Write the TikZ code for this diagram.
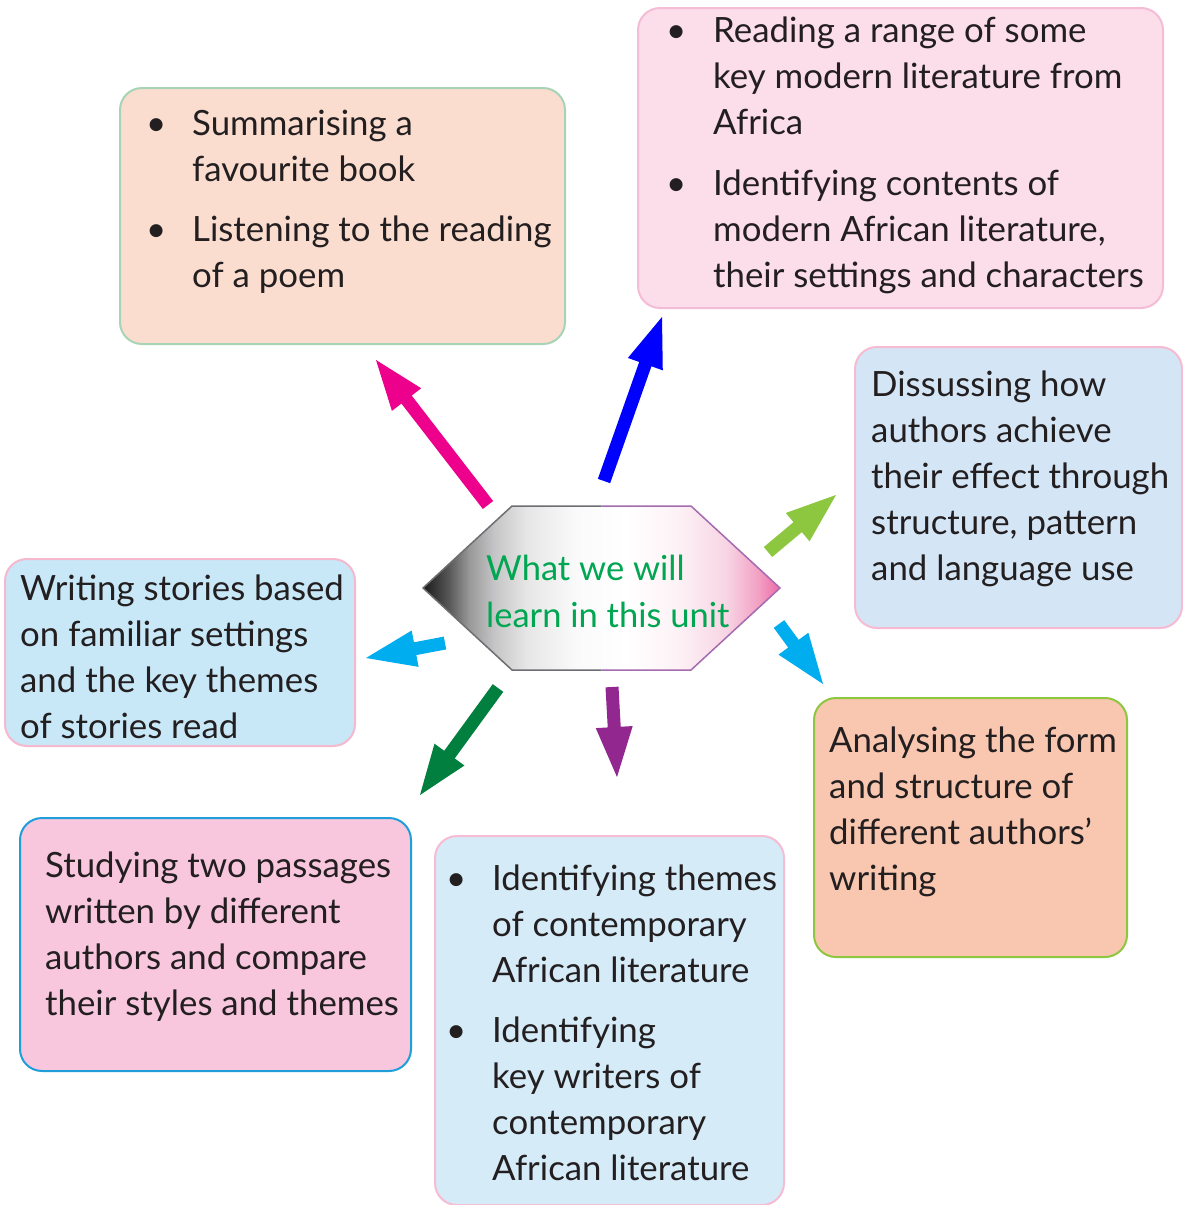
\documentclass[tikz,border=0pt]{standalone}
\usepackage{fontspec}
\setmainfont{Lato}
\usetikzlibrary{calc}
\definecolor{txtc}{HTML}{231F20}
\definecolor{fA}{HTML}{FBDDD0}\definecolor{dA}{HTML}{A8D4B6}
\definecolor{fB}{HTML}{FCDDEA}\definecolor{dB}{HTML}{F5BCD6}
\definecolor{fC}{HTML}{D4E6F6}\definecolor{dC}{HTML}{F6BBD2}
\definecolor{fD}{HTML}{F9C7B0}\definecolor{dD}{HTML}{8DC63F}
\definecolor{fE}{HTML}{D5EBF8}\definecolor{dE}{HTML}{F6BCD4}
\definecolor{fF}{HTML}{F8C7DD}\definecolor{dF}{HTML}{1E9FDA}
\definecolor{fG}{HTML}{C8E8F8}\definecolor{dG}{HTML}{F5B8CF}
\definecolor{hubgreen}{HTML}{00A651}
\definecolor{cMag}{HTML}{EC008C}
\definecolor{cBlue}{HTML}{0000FF}
\definecolor{cLime}{HTML}{8DC63F}
\definecolor{cCyan}{HTML}{00AEEF}
\definecolor{cPurp}{HTML}{92278F}
\definecolor{cDkGr}{HTML}{007F3E}
\definecolor{hs0}{HTML}{1A1A1A}\definecolor{hs1}{HTML}{555555}
\definecolor{hs2}{HTML}{999999}\definecolor{hs3}{HTML}{C5C5C7}
\definecolor{hs4}{HTML}{E6E6E6}\definecolor{hs5}{HTML}{FAFAFA}
\definecolor{hs6}{HTML}{FDF2F6}\definecolor{hs7}{HTML}{F8D5E4}
\definecolor{hs8}{HTML}{F2A0C4}\definecolor{hs9}{HTML}{EC6AA6}
\definecolor{hexgray}{HTML}{6D6E71}\definecolor{hexpurp}{HTML}{A56BB0}
\pgfdeclarehorizontalshading{hexshade}{100bp}{color(0bp)=(hs0); color(25bp)=(hs0); color(28.5bp)=(hs1); color(31.5bp)=(hs2); color(35bp)=(hs3); color(39.5bp)=(hs4); color(46.5bp)=(hs5); color(53.5bp)=(white); color(60.5bp)=(hs6); color(67.5bp)=(hs7); color(72bp)=(hs8); color(75bp)=(hs9); color(100bp)=(hs9)}
\newcommand{\fatarrow}[3]{%
  \coordinate (#2-b) at ($(#3)!50pt!(#2)$);
  \fill[#1] ($(#2)!6.5pt!90:(#3)$) -- ($(#2-b)!6.5pt!-90:(#2)$) -- ($(#2-b)!18.5pt!-90:(#2)$) -- (#3) -- ($(#2-b)!18.5pt!90:(#2)$) -- ($(#2-b)!6.5pt!90:(#2)$) -- ($(#2)!6.5pt!-90:(#3)$) -- cycle;}
\tikzset{
  boxstyle/.style={draw, line width=2pt, rounded corners=22pt, anchor=north west, inner sep=0pt},
  txt/.style={anchor=north west, inner sep=0pt, align=left, text=txtc, font=\fontsize{34.8}{46}\selectfont},
}
\begin{document}
\begin{tikzpicture}[x=1pt,y=-1pt]
\useasboundingbox (0,0) rectangle (1183,1205);
\fill[white] (0,0) rectangle (1183,1205);
% boxes
\node (bA) [boxstyle, fill=fA, draw=dA, minimum width=445pt, minimum height=256pt] at (119,87) {};
\node (bB) [boxstyle, fill=fB, draw=dB, minimum width=525pt, minimum height=300pt] at (637,7) {};
\node (bC) [boxstyle, fill=fC, draw=dC, minimum width=327pt, minimum height=281pt] at (854,346) {};
\node (bD) [boxstyle, fill=fD, draw=dD, minimum width=313pt, minimum height=259pt] at (813,697) {};
\node (bE) [boxstyle, fill=fE, draw=dE, minimum width=349pt, minimum height=369pt] at (434,835) {};
\node (bF) [boxstyle, fill=fF, draw=dF, minimum width=391pt, minimum height=253pt] at (19,817) {};
\node (bG) [boxstyle, fill=fG, draw=dG, minimum width=350pt, minimum height=187pt] at (4,558) {};
% texts
\node (tA) [txt] at (146,102.8) {\strut\makebox[46pt][l]{\textbullet}Summarising a\\\hspace*{46pt}favourite book\\[14pt]\makebox[46pt][l]{\textbullet}Listening to the reading\\\hspace*{46pt}of a poem};
\node (tB) [txt] at (666,9.8) {\strut\makebox[47pt][l]{\textbullet}Reading a range of some\\\hspace*{47pt}key modern literature from\\\hspace*{47pt}Africa\\[15pt]\makebox[47pt][l]{\textbullet}Identifying contents of\\\hspace*{47pt}modern African literature,\\\hspace*{47pt}their settings and characters};
\node (tC) [txt] at (871,363.8) {\strut Dissussing how\\authors achieve\\their effect through\\structure, pattern\\and language use};
\node (tD) [txt] at (829,719.8) {\strut Analysing the form\\and structure of\\different authors’\\writing};
\node (tE) [txt] at (446,857.8) {\strut\makebox[46pt][l]{\textbullet}Identifying themes\\\hspace*{46pt}of contemporary\\\hspace*{46pt}African literature\\[14pt]\makebox[46pt][l]{\textbullet}Identifying\\\hspace*{46pt}key writers of\\\hspace*{46pt}contemporary\\\hspace*{46pt}African literature};
\node (tF) [txt] at (45,844.8) {\strut Studying two passages\\written by different\\authors and compare\\their styles and themes};
\node (tG) [txt] at (20,567.8) {\strut Writing stories based\\on familiar settings\\and the key themes\\of stories read};
% hexagon
\coordinate (h1) at (423,588);
\coordinate (h2) at (512,506);
\coordinate (h3) at (691,506);
\coordinate (h4) at (780,588);
\coordinate (h5) at (691,670);
\coordinate (h6) at (512,670);
\shade[shading=hexshade] (h1) -- (h2) -- (h3) -- (h4) -- (h5) -- (h6) -- cycle;
\draw[hexgray, line width=1.5pt, line join=round] ($(h2)!0.5!(h3)$) -- (h2) -- (h1) -- (h6) -- ($(h6)!0.5!(h5)$);
\draw[hexpurp, line width=1.5pt, line join=round] ($(h2)!0.5!(h3)$) -- (h3) -- (h4) -- (h5) -- ($(h6)!0.5!(h5)$);
\node (hub) [txt, text=hubgreen, font=\fontsize{34.5}{47}\selectfont] at (486,547.8) {\strut What we will\\learn in this unit};
% arrows
\coordinate (mt) at (488,505);  \coordinate (mh) at (376,360);
\coordinate (bt) at (604,481);  \coordinate (bh) at (662,317);
\coordinate (gt) at (768,552);  \coordinate (gh) at (836,495);
\coordinate (ct) at (779,624);  \coordinate (ch) at (823,684);
\coordinate (pt) at (612,687);  \coordinate (ph) at (617,777);
\coordinate (dt) at (498,688);  \coordinate (dh) at (420,795);
\coordinate (lt) at (445,643);  \coordinate (lh) at (366,658);
\fatarrow{cMag}{mt}{mh}
\fatarrow{cBlue}{bt}{bh}
\fatarrow{cLime}{gt}{gh}
\fatarrow{cCyan}{ct}{ch}
\fatarrow{cPurp}{pt}{ph}
\fatarrow{cDkGr}{dt}{dh}
\fatarrow{cCyan}{lt}{lh}
\end{tikzpicture}
\end{document}
